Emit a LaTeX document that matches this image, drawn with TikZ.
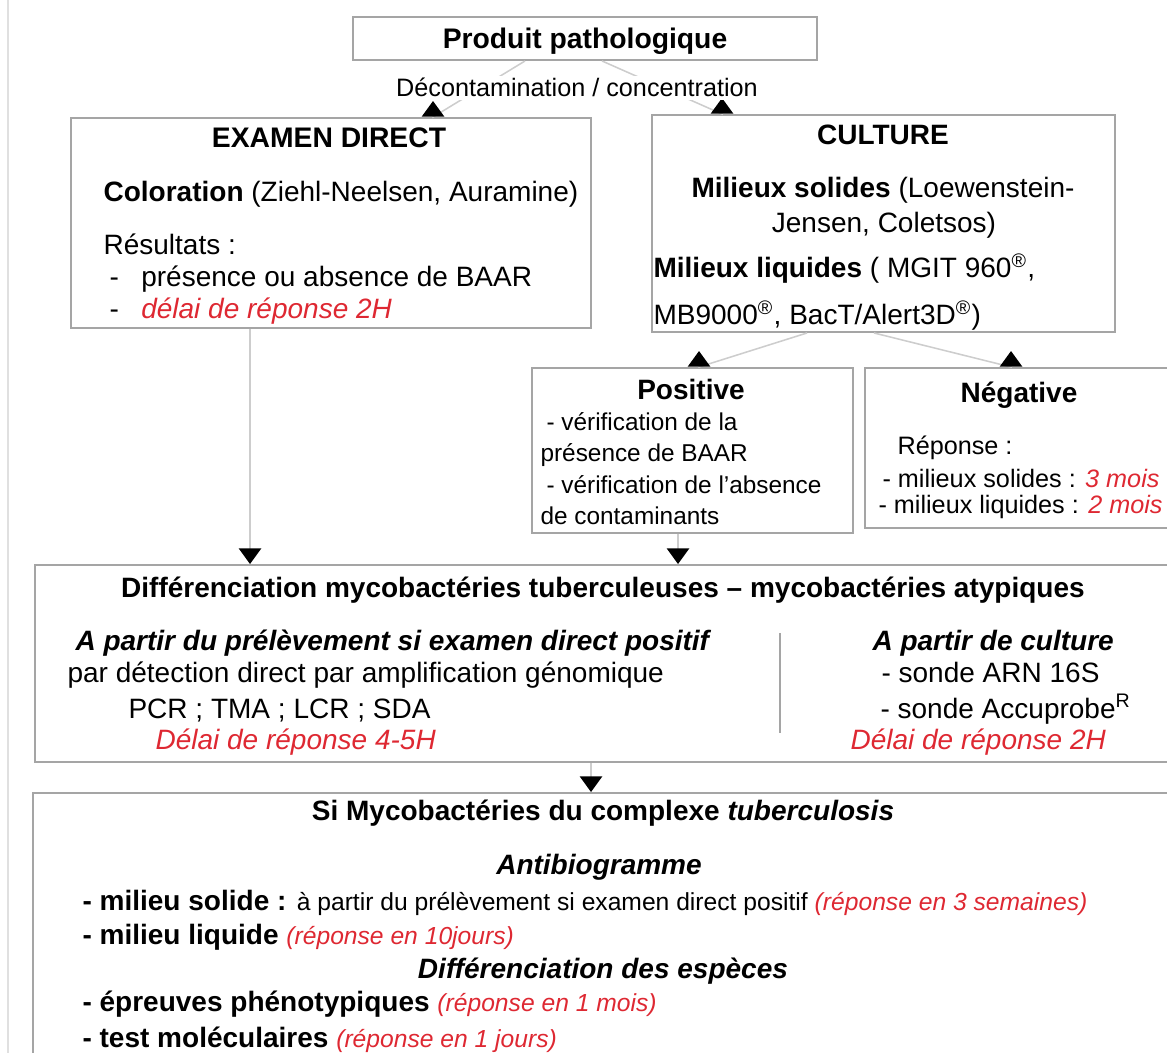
\documentclass[tikz,border=0pt]{standalone}
\usepackage{fontspec}
\setmainfont{Liberation Sans}
\usetikzlibrary{arrows.meta,calc,fit}
\definecolor{delai}{RGB}{222,40,50}
\definecolor{cadre}{RGB}{165,165,165}
\definecolor{fleche}{RGB}{205,205,205}
\newcommand{\rep}[1]{{\color{delai}\itshape #1}}
\newcommand{\reg}{\textsuperscript{®}}

\begin{document}
\begin{tikzpicture}[x=0.357pt,y=-0.357pt,
  box/.style={draw=cadre,line width=0.7pt,inner sep=0pt},
  conn/.style={draw=fleche,line width=0.55pt,-{Triangle[width=8pt,length=5.6pt,color=black]}},
  lt/.style={anchor=base west,inner sep=0pt,font=\fontsize{10}{12}\selectfont},
  ct/.style={anchor=base,inner sep=0pt,font=\fontsize{10}{12}\selectfont},
  small/.style={font=\fontsize{8.7}{10}\selectfont},
  ]
\useasboundingbox (0,0) rectangle (1167,1053);
\clip (0,0) rectangle (1167,1053);

% page edge
\draw[black!12,line width=0.7pt] (8,0) -- (8,1053);

% boxes
\node[box,fit={(353,17) (817,60)}] (prod) {};
\node[box,fit={(71,118) (591,328)}] (ed) {};
\node[box,fit={(652,115) (1115,332)}] (cult) {};
\node[box,fit={(532,368) (853,533)}] (pos) {};
\node[box,fit={(865,368) (1200,528)}] (neg) {};
\node[box,fit={(35,565) (1200,762)}] (diff) {};
\node[box,fit={(33,793) (1200,1080)}] (simyco) {};

% connectors
\coordinate (edout) at ($(ed.south west)+(180,0)$);
\coordinate (posout) at ($(pos.south west)+(147,0)$);
\coordinate (diffout) at ($(diff.south west)+(557,0)$);
\draw[conn] ($(prod.south)+(-60,0)$) -- ($(ed.north west)+(363,0)$) -- ++(0,-16);
\draw[conn] ($(prod.south)+(17,0)$) -- ($(cult.north west)+(71,0)$) -- ++(0,-16);
\draw[conn] ($(cult.south west)+(156,0)$) -- ($(pos.north west)+(168,0)$) -- ++(0,-16);
\draw[conn] ($(cult.south west)+(223,0)$) -- ($(neg.north west)+(147,0)$) -- ++(0,-16);
\draw[conn] (edout) -- (edout |- diff.north);
\draw[conn] (posout) -- (posout |- diff.north);
\draw[conn] (diffout) -- (diffout |- simyco.north);
\draw[cadre,line width=0.55pt] (780,633) -- (780,733);

% texts
\node[ct,font=\fontsize{10.1}{12}\selectfont\bfseries] (tprod) at (585,49) {Produit pathologique};
\node[ct,font=\fontsize{9}{11}\selectfont,fill=white,inner sep=1pt] (decont) at (577,97) {Décontamination / concentration};

\node[ct,font=\fontsize{10.1}{12}\selectfont\bfseries] (ted) at (329,148) {EXAMEN DIRECT};
\node[lt] (colo) at (103,202) {\textbf{Coloration} (Ziehl-Neelsen, Auramine)};
\node[lt] (resu) at (103,255) {Résultats :};
\node[lt] (res1) at (109,287) {-\hspace{8pt}présence ou absence de BAAR};
\node[lt] (res2) at (109,319) {-\hspace{8pt}\rep{délai de réponse 2H}};

\node[ct,font=\fontsize{10}{12}\selectfont\bfseries] (tcult) at (883,145) {CULTURE};
\node[ct] (sol1) at (883,198) {\textbf{Milieux solides} (Loewenstein-};
\node[ct] (sol2) at (884,233) {Jensen, Coletsos)};
\node[lt] (liq1) at (653,278) {\textbf{Milieux liquides} ( MGIT 960\reg,};
\node[lt] (liq2) at (653,325) {MB9000\reg, BacT/Alert3D\reg)};

\node[ct,font=\fontsize{10}{12}\selectfont\bfseries] (tpos) at (691,400) {Positive};
\node[lt,small] (pos1) at (546,431) {- vérification de la};
\node[lt,small] (pos2) at (540,462) {présence de BAAR};
\node[lt,small] (pos3) at (546,494) {- vérification de l'absence};
\node[lt,small] (pos4) at (540,524) {de contaminants};

\node[ct,font=\fontsize{10}{12}\selectfont\bfseries] (tneg) at (1019,403) {Négative};
\node[lt,font=\fontsize{9}{11}\selectfont] (neg1) at (897,455) {Réponse :};
\node[lt,font=\fontsize{9}{11}\selectfont] (neg2) at (882,488) {- milieux solides : \rep{3 mois}};
\node[lt,font=\fontsize{9}{11}\selectfont] (neg3) at (878,514) {- milieux liquides : \rep{2 mois}};

\node[ct,font=\fontsize{10}{12}\selectfont\bfseries] (tdiff) at (603,598) {Différenciation mycobactéries tuberculeuses – mycobactéries atypiques};
\node[lt,font=\fontsize{10}{12}\selectfont\bfseries\itshape] (prel) at (75,650) {A partir du prélèvement si examen direct positif};
\node[lt] (prel1) at (67,682) {par détection direct par amplification génomique};
\node[lt] (prel2) at (128,718) {PCR ; TMA ; LCR ; SDA};
\node[lt] (prel3) at (155,750) {\rep{Délai de réponse 4-5H}};
\node[lt,font=\fontsize{10}{12}\selectfont\bfseries\itshape] (cul) at (872,650) {A partir de culture};
\node[lt] (cul1) at (881,682) {- sonde ARN 16S};
\node[lt] (cul2) at (880,718) {- sonde Accuprobe\textsuperscript{R}};
\node[lt] (cul3) at (850,750) {\rep{Délai de réponse 2H}};

\node[ct,font=\fontsize{10}{12}\selectfont\bfseries] (tsi) at (603,820) {Si Mycobactéries du complexe \textit{tuberculosis}};
\node[ct,font=\fontsize{10}{12}\selectfont\bfseries\itshape] (antibio) at (599,875) {Antibiogramme};
\node[lt] (ab1) at (82,910) {\textbf{- milieu solide :} {\fontsize{8.8}{10}\selectfont à partir du prélèvement si examen direct positif \rep{(réponse en 3 semaines)}}};
\node[lt] (ab2) at (82,944) {\textbf{- milieu liquide} {\fontsize{8.8}{10}\selectfont\rep{(réponse en 10jours)}}};
\node[ct,font=\fontsize{10}{12}\selectfont\bfseries\itshape] (esp) at (603,978) {Différenciation des espèces};
\node[lt] (esp1) at (82,1012) {\textbf{- épreuves phénotypiques} {\fontsize{8.8}{10}\selectfont\rep{(réponse en 1 mois)}}};
\node[lt] (esp2) at (82,1047) {\textbf{- test moléculaires} {\fontsize{8.8}{10}\selectfont\rep{(réponse en 1 jours)}}};
\end{tikzpicture}
\end{document}
